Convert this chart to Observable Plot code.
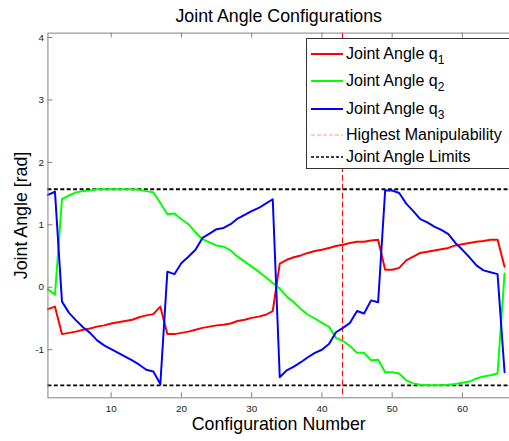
<!DOCTYPE html>
<html><head><meta charset="utf-8">
<script src="https://cdn.jsdelivr.net/npm/d3@7"></script>
<script src="https://cdn.jsdelivr.net/npm/@observablehq/plot@0.6"></script>
<style>
html,body{margin:0;padding:0;overflow:hidden;background:#fff;width:509px;height:441px;}
#wrap{position:relative;width:509px;height:441px;overflow:hidden;font-family:"Liberation Sans",Arial,sans-serif;}
#chart{position:absolute;left:0;top:0;}
#legend{position:absolute;left:306px;top:38px;width:230px;height:131px;border:1px solid #333;background:#fff;box-sizing:border-box;}
.row{position:absolute;left:4px;height:20px;display:flex;align-items:center;font-size:16px;color:#000;white-space:nowrap;}
.row svg{width:32px;height:20px;margin-right:3px;flex:none;}
.row sub{font-size:12px;vertical-align:-5px;line-height:0;}
</style></head>
<body>
<div id="wrap"><div id="chart"></div><div id="legend"></div></div>
<script>
const configNumber = d3.range(1, 67);
const q1 = [-0.35,-0.31,-0.75,-0.73,-0.71,-0.68,-0.66,-0.63,-0.61,-0.58,-0.56,-0.54,-0.52,-0.48,-0.45,-0.43,-0.31,-0.75,-0.75,-0.73,-0.71,-0.68,-0.65,-0.63,-0.61,-0.60,-0.58,-0.54,-0.52,-0.49,-0.47,-0.44,-0.38,0.38,0.44,0.48,0.51,0.55,0.58,0.60,0.63,0.66,0.68,0.71,0.73,0.73,0.75,0.76,0.28,0.28,0.31,0.43,0.49,0.55,0.57,0.59,0.61,0.63,0.67,0.69,0.71,0.73,0.74,0.76,0.76,0.33];
const q2 = [-0.03,-0.12,1.41,1.47,1.52,1.54,1.55,1.57,1.57,1.57,1.57,1.57,1.57,1.56,1.54,1.52,1.35,1.17,1.18,1.09,1.01,0.88,0.77,0.72,0.67,0.65,0.59,0.49,0.41,0.33,0.25,0.16,0.07,-0.02,-0.15,-0.24,-0.35,-0.44,-0.50,-0.57,-0.63,-0.81,-0.86,-0.94,-1.05,-1.05,-1.17,-1.16,-1.36,-1.36,-1.38,-1.49,-1.54,-1.56,-1.57,-1.57,-1.57,-1.56,-1.55,-1.53,-1.51,-1.46,-1.43,-1.41,-1.38,0.22];
const q3 = [1.48,1.53,-0.23,-0.41,-0.53,-0.64,-0.73,-0.85,-0.93,-0.99,-1.05,-1.11,-1.17,-1.24,-1.32,-1.35,-1.55,0.25,0.21,0.39,0.49,0.60,0.79,0.86,0.93,0.95,1.01,1.10,1.16,1.22,1.27,1.34,1.41,-1.44,-1.33,-1.27,-1.20,-1.12,-1.05,-1.00,-0.91,-0.72,-0.65,-0.57,-0.38,-0.42,-0.21,-0.24,1.55,1.55,1.51,1.34,1.22,1.09,1.04,0.97,0.92,0.85,0.71,0.60,0.48,0.35,0.27,0.24,0.21,-1.36];
const seriesNames = ["Joint Angle q1","Joint Angle q2","Joint Angle q3"];
const seriesColors = ["#ff0000","#00ff00","#0000ff"];
const jointLimits = [-Math.PI/2, Math.PI/2];
const highestManipulability = [43];
const xTicks = [10,20,30,40,50,60];
const yTicks = [-1,0,1,2,3,4];
const titleText = "Joint Angle Configurations";
const xLabel = "Configuration Number";
const yLabel = "Joint Angle [rad]";

const W = 515, H = 441, mL = 48, mT = 33, mB = 39, mR = 0;
const plotW = W - mL - mR, plotH = H - mT - mB;
const axisGray = "#808080";

const series = [q1, q2, q3];
const rows = series.flatMap((s, k) => s.map((v, i) => ({x: configNumber[i], v, k})));

const chart = Plot.plot({
  width: W, height: H,
  marginLeft: mL, marginRight: mR, marginTop: mT, marginBottom: mB,
  x: {domain: [1, 66.7]},
  y: {domain: [-1.77, 4.07]},
  style: {fontFamily: '"Liberation Sans", Arial, sans-serif', background: "#fff", color: "#000", overflow: "visible"},
  marks: [
    Plot.ruleY(jointLimits, {y: d => d, stroke: "#000", strokeWidth: 2, strokeDasharray: "4,2.5"}),
    Plot.ruleX(highestManipulability, {x: d => d, dx: -0.5, stroke: "#ff0000", strokeWidth: 1, strokeDasharray: "6,3"}),
    ...series.map((s, k) => Plot.line(rows.filter(r => r.k === k), {x: "x", y: "v", stroke: seriesColors[k], strokeWidth: 2, strokeLinejoin: "round"})),
    Plot.frame({stroke: axisGray}),
    Plot.ruleX(xTicks, {x: d => d, insetTop: plotH - 5, stroke: axisGray}),
    Plot.ruleX(xTicks, {x: d => d, insetBottom: plotH - 5, stroke: axisGray}),
    Plot.ruleY(yTicks, {y: d => d, insetRight: plotW - 5, stroke: axisGray}),
    Plot.axisX(xTicks, {tickSize: 0, tickPadding: 7, fontSize: 10, label: null, fill: "#222", tickFormat: d => String(d)}),
    Plot.axisY(yTicks, {tickSize: 0, tickPadding: 4, fontSize: 10, label: null, fill: "#222", tickFormat: d => String(d)}),
    Plot.text([titleText], {text: d => d, frameAnchor: "top", lineAnchor: "middle", dy: -17, fontSize: 18, fill: "#000"}),
    Plot.text([xLabel], {text: d => d, frameAnchor: "bottom", lineAnchor: "middle", dy: 27, fontSize: 18, fill: "#000"}),
    Plot.text([yLabel], {text: d => d, frameAnchor: "left", textAnchor: "middle", lineAnchor: "middle", dx: -26.5, rotate: -90, fontSize: 18, fill: "#000"})
  ]
});
document.getElementById("chart").appendChild(chart);

const legend = document.getElementById("legend");
const legendItems = [
  {label: 'Joint Angle q<sub>1</sub>', color: seriesColors[0], width: 2, dash: null, top: 5},
  {label: 'Joint Angle q<sub>2</sub>', color: seriesColors[1], width: 2, dash: null, top: 31.7},
  {label: 'Joint Angle q<sub>3</sub>', color: seriesColors[2], width: 2, dash: null, top: 60},
  {label: 'Highest Manipulability', color: "#ff9a9a", width: 1, dash: "4,2", top: 86},
  {label: 'Joint Angle Limits', color: "#000", width: 1.5, dash: "3,2", top: 107.7}
];
for (const it of legendItems) {
  const row = document.createElement("div");
  row.className = "row";
  row.style.top = it.top + "px";
  row.innerHTML = `<svg viewBox="0 0 32 20"><line x1="0" x2="32" y1="10" y2="10" stroke="${it.color}" stroke-width="${it.width}" ${it.dash ? `stroke-dasharray="${it.dash}"` : ""}/></svg><span>${it.label}</span>`;
  legend.appendChild(row);
}
</script>
</body></html>
